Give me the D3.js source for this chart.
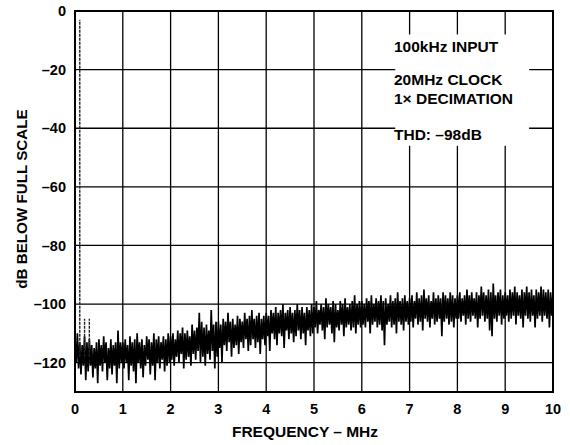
<!DOCTYPE html>
<html>
<head>
<meta charset="utf-8">
<script src="https://cdn.jsdelivr.net/npm/d3@7"></script>
<style>
  body { margin: 0; background: #fff; }
  text { font-family: "Liberation Sans", Arial, Helvetica, sans-serif; font-weight: bold; fill: #000; }
</style>
</head>
<body>
<svg id="chart"></svg>
<script>
// axis ticks
const freqTicks = [0, 1, 2, 3, 4, 5, 6, 7, 8, 9, 10];
const dbTicks = [0, -20, -40, -60, -80, -100, -120];

// FFT noise floor: one peak and one trough per 0.05 MHz bin
const binStep = 0.05;
const peakDb = [
  -112, -110, -113, -114, -111, -113, -112, -114, -115, -113, -112, -114, -111, -113, -115, -112, -114, -113, -109, -113,
  -113, -112, -114, -111, -113, -112, -110, -113, -112, -114, -111, -112, -113, -110, -112, -111, -113, -111, -112, -110,
  -111, -110, -112, -109, -110, -108, -110, -109, -111, -107, -109, -108, -103, -106, -108, -107, -109, -102, -107, -106,
  -106, -107, -105, -106, -103, -106, -105, -107, -104, -105, -106, -103, -105, -104, -102, -105, -104, -103, -105, -104,
  -103, -104, -102, -103, -101, -103, -102, -100, -103, -102, -101, -103, -102, -100, -102, -101, -103, -101, -102, -100,
  -101, -99, -102, -100, -101, -98, -100, -101, -99, -100, -102, -99, -100, -98, -101, -100, -99, -97, -100, -99,
  -99, -100, -98, -99, -97, -100, -98, -99, -97, -99, -98, -100, -97, -99, -98, -96, -99, -98, -97, -99,
  -98, -97, -99, -96, -98, -97, -95, -98, -97, -99, -96, -98, -97, -98, -96, -97, -98, -96, -97, -98,
  -97, -96, -98, -97, -95, -97, -96, -98, -96, -97, -94, -96, -97, -95, -96, -93, -97, -96, -95, -97,
  -96, -97, -95, -96, -94, -96, -97, -95, -96, -94, -96, -95, -97, -95, -96, -94, -95, -96, -95, -96,
  -96
];
const troughDb = [
  -120, -122, -124, -121, -126, -123, -121, -125, -122, -127, -121, -123, -120, -126, -122, -124, -121, -127, -122, -120,
  -122, -120, -126, -121, -123, -127, -120, -122, -125, -121, -119, -124, -121, -126, -120, -122, -119, -123, -121, -120,
  -119, -121, -118, -120, -117, -122, -119, -118, -121, -117, -119, -116, -120, -118, -121, -117, -119, -116, -122, -118,
  -115, -120, -114, -116, -113, -118, -115, -114, -117, -113, -115, -112, -116, -114, -112, -115, -113, -117, -112, -114,
  -111, -116, -110, -112, -114, -110, -111, -115, -109, -112, -110, -113, -111, -109, -112, -110, -114, -109, -111, -110,
  -108, -110, -107, -109, -112, -108, -107, -110, -113, -108, -109, -107, -111, -108, -107, -109, -108, -110, -107, -108,
  -107, -108, -106, -110, -107, -106, -108, -107, -109, -114, -107, -106, -108, -107, -110, -106, -107, -109, -106, -107,
  -106, -108, -105, -107, -106, -109, -105, -106, -108, -105, -107, -106, -105, -111, -106, -105, -107, -106, -108, -105,
  -105, -106, -104, -107, -105, -106, -104, -105, -108, -105, -104, -106, -105, -109, -111, -105, -106, -104, -107, -105,
  -104, -106, -105, -104, -107, -104, -105, -108, -104, -105, -106, -104, -108, -105, -104, -106, -104, -105, -108, -104
];

// input tone and its harmonics
const toneFreq = [0.1, 0.2, 0.3];
const toneDb = [-3, -105, -105];

const noteLines = ["100kHz INPUT", "20MHz CLOCK", "1\u00d7 DECIMATION", "THD: \u201398dB"];

const width = 570;
const height = 445;
const margin = { top: 11, right: 17, bottom: 53, left: 75 };

const svg = d3.select("#chart")
  .attr("width", width)
  .attr("height", height);

const x = d3.scaleLinear().domain([0, 10]).range([margin.left, width - margin.right]);
const y = d3.scaleLinear().domain([0, -130]).range([margin.top, height - margin.bottom]);

svg.append("defs").append("clipPath").attr("id", "plot-clip")
  .append("rect")
  .attr("x", x(0)).attr("y", y(0))
  .attr("width", x(10) - x(0)).attr("height", y(-130) - y(0));

// grid
const grid = svg.append("g").attr("stroke", "#000").attr("stroke-width", 1.3);
grid.selectAll("line.v")
  .data(freqTicks.slice(1, -1))
  .join("line")
  .attr("class", "v")
  .attr("x1", (d) => x(d)).attr("x2", (d) => x(d))
  .attr("y1", y(0)).attr("y2", y(-130));
grid.selectAll("line.h")
  .data(dbTicks.slice(1))
  .join("line")
  .attr("class", "h")
  .attr("x1", x(0)).attr("x2", x(10))
  .attr("y1", (d) => y(d)).attr("y2", (d) => y(d));

// note box blanks out the grid behind the text
const noteBox = { x0: 6.7, x1: 9.5, db0: -8, db1: -46 };
svg.append("rect")
  .attr("x", x(noteBox.x0))
  .attr("y", y(noteBox.db0))
  .attr("width", x(noteBox.x1) - x(noteBox.x0))
  .attr("height", y(noteBox.db1) - y(noteBox.db0))
  .attr("fill", "#fff");

const noteBaselines = [52, 85, 104, 140];
svg.append("g")
  .selectAll("text")
  .data(noteLines)
  .join("text")
  .attr("x", 394)
  .attr("y", (d, i) => noteBaselines[i])
  .attr("font-size", 15.5)
  .text((d) => d);

// spectrum trace
const plot = svg.append("g").attr("clip-path", "url(#plot-clip)");

const tracePoints = [];
peakDb.forEach((p, i) => {
  tracePoints.push([i * binStep, p]);
  if (i < troughDb.length) tracePoints.push([i * binStep + binStep / 2, troughDb[i]]);
});

plot.append("path")
  .datum(tracePoints)
  .attr("fill", "none")
  .attr("stroke", "#000")
  .attr("stroke-width", 1.7)
  .attr("stroke-linejoin", "bevel")
  .attr("d", d3.line().x((d) => x(d[0])).y((d) => y(d[1])));

plot.selectAll("line.tone")
  .data(toneFreq)
  .join("line")
  .attr("class", "tone")
  .attr("x1", (d) => x(d)).attr("x2", (d) => x(d))
  .attr("y1", y(-118))
  .attr("y2", (d, i) => y(toneDb[i]))
  .attr("stroke", "#222")
  .attr("stroke-width", 1.4)
  .attr("stroke-dasharray", "3,1");

// frame
svg.append("rect")
  .attr("x", x(0)).attr("y", y(0))
  .attr("width", x(10) - x(0)).attr("height", y(-130) - y(0))
  .attr("fill", "none")
  .attr("stroke", "#000")
  .attr("stroke-width", 2);

// tick labels
svg.append("g")
  .selectAll("text")
  .data(dbTicks)
  .join("text")
  .attr("x", x(0) - 9)
  .attr("y", (d) => y(d))
  .attr("dy", "0.36em")
  .attr("text-anchor", "end")
  .attr("font-size", 14.5)
  .text((d) => (d < 0 ? "\u2013" + Math.abs(d) : d));

svg.append("g")
  .selectAll("text")
  .data(freqTicks)
  .join("text")
  .attr("x", (d) => x(d))
  .attr("y", 414)
  .attr("text-anchor", "middle")
  .attr("font-size", 14.5)
  .text((d) => d);

svg.append("text")
  .attr("x", 305)
  .attr("y", 437)
  .attr("text-anchor", "middle")
  .attr("font-size", 15.5)
  .text("FREQUENCY \u2013 MHz");

svg.append("text")
  .attr("transform", "translate(27,199) rotate(-90)")
  .attr("text-anchor", "middle")
  .attr("font-size", 15.2)
  .text("dB BELOW FULL SCALE");
</script>
</body>
</html>
